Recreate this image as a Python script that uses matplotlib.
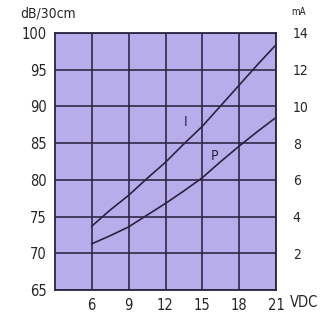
import matplotlib
matplotlib.use('Agg')
import matplotlib.pyplot as plt

# curve I and curve P (x in VDC, y in dB/30cm)
vdc = [6, 7.5, 9, 10.5, 12, 13.5, 15, 16.5, 18, 19.5, 21]
i_db = [73.7, 75.9, 77.9, 80.2, 82.4, 84.9, 87.3, 90.1, 92.9, 95.7, 98.4]
p_db = [71.3, 72.4, 73.6, 75.2, 76.8, 78.5, 80.3, 82.5, 84.6, 86.6, 88.5]

x_ticks = [6, 9, 12, 15, 18, 21]
left_ticks = [65, 70, 75, 80, 85, 90, 95, 100]
right_ticks = [2, 4, 6, 8, 10, 12, 14]

ink = '#2b2340'
txt = '#262626'
plt.rcParams['font.family'] = 'DejaVu Sans'
plt.rcParams['font.stretch'] = 'condensed'

fig = plt.figure(figsize=(3.31, 3.17), dpi=100)
ax = fig.add_axes([0.166, 0.085, 0.668, 0.811])
ax.set_facecolor('#b7adeb')

ax.plot(vdc, i_db, color=ink, lw=1.2)
ax.plot(vdc, p_db, color=ink, lw=1.2)
ax.text(13.6, 87.9, 'I', color=ink, fontsize=10, ha='center', va='center')
ax.text(16.0, 83.2, 'P', color=ink, fontsize=10, ha='center', va='center')

ax.set_xlim(3, 21)
ax.set_ylim(65, 100)
ax.set_xticks(x_ticks)
ax.set_yticks(left_ticks)
ax.grid(True, color=ink, lw=1.15)
ax.set_axisbelow(True)
for s in ax.spines.values():
    s.set_color(ink)
    s.set_linewidth(1.3)
ax.tick_params(length=0, labelsize=10.5, colors=txt, pad=6)

ax2 = ax.twinx()
ax2.set_ylim(0, 14)
ax2.set_yticks(right_ticks)
ax2.tick_params(length=0, labelsize=10, colors=txt, pad=12)
for s in ax2.spines.values():
    s.set_visible(False)

fig.text(0.06, 0.935, 'dB/30cm', fontsize=10, color=txt, va='bottom')
fig.text(0.88, 0.945, 'mA', fontsize=7, color=txt, va='bottom')
fig.text(0.875, 0.045, 'VDC', fontsize=10.5, color=txt, va='center')

fig.savefig('out.png', dpi=100)
